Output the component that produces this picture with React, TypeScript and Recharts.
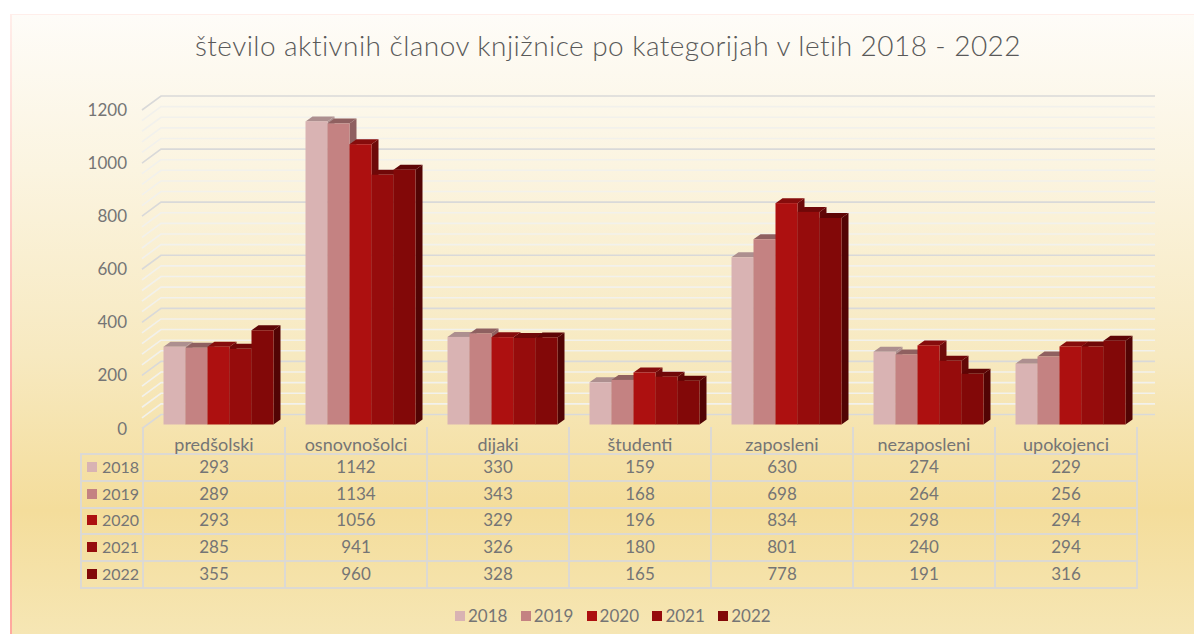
import { BarChart, Bar, XAxis, YAxis, CartesianGrid, Legend } from 'recharts'

const categories = ['predšolski', 'osnovnošolci', 'dijaki', 'študenti', 'zaposleni', 'nezaposleni', 'upokojenci']
const years = ['2018', '2019', '2020', '2021', '2022']
const values2018 = [293, 1142, 330, 159, 630, 274, 229]
const values2019 = [289, 1134, 343, 168, 698, 264, 256]
const values2020 = [293, 1056, 329, 196, 834, 298, 294]
const values2021 = [285, 941, 326, 180, 801, 240, 294]
const values2022 = [355, 960, 328, 165, 778, 191, 316]
const yTicks = [0, 200, 400, 600, 800, 1000, 1200]
const Y_MAX = 1200
const gridValues = [
    0, 40, 80, 120, 160, 200, 240, 280, 320, 360, 400, 440, 480, 520, 560, 600,
    640, 680, 720, 760, 800, 840, 880, 920, 960, 1000, 1040, 1080, 1120, 1160, 1200,
]

const seriesValues = [values2018, values2019, values2020, values2021, values2022]
const FRONT_COLORS = ['#d9b3b3', '#c48282', '#ad1010', '#960c0c', '#820808']
const TOP_COLORS = ['#ad8f8f', '#8f6060', '#860c0c', '#700808', '#5e0505']
const SIDE_COLORS = ['#ad8f8f', '#8f6060', '#6e0a0a', '#620707', '#520404']

const FONT = 'Lato, sans-serif'
const TEXT_COLOR = '#757575'
const LINE_COLOR = '#dcd9d3'

const chartData = categories.map((name, i) => {
    const row: Record<string, string | number> = { name }
    years.forEach((year, s) => {
        row[year] = seriesValues[s][i]
    })
    return row
})

// fake 3D block: front face plus top and right faces
function Block(props: any) {
    const { x, y, width, height, fill, top, side } = props
    const dx = 7
    const dy = 5
    const left = x + 5.5
    const right = left + width
    const bottom = y + height
    return (
        <g>
            <polygon points={`${right},${y} ${right + dx},${y - dy} ${right + dx},${bottom - dy} ${right},${bottom}`} fill={side} />
            <polygon points={`${left},${y} ${left + dx},${y - dy} ${right + dx},${y - dy} ${right},${y}`} fill={top} />
            <rect x={left} y={y} width={width} height={height} fill={fill} />
        </g>
    )
}

// back wall line with the short slanted piece on the left side wall
function GridLine(props: any) {
    const { x1, x2, y1, index } = props
    const major = index % 5 === 0
    const stroke = major ? '#d9d9d9' : '#f2f1ec'
    return (
        <polyline
            points={`${x1},${y1 + 4} ${x1 + 19},${y1 - 10} ${x2 + 19},${y1 - 10}`}
            fill="none"
            stroke={stroke}
            strokeWidth={1.6}
        />
    )
}

function LegendRow(props: any) {
    return (
        <div style={{ display: 'flex', fontFamily: FONT, fontSize: 17, color: TEXT_COLOR, lineHeight: '20px' }}>
            {props.payload.map((item: any) => (
                <div key={item.value} style={{ display: 'flex', alignItems: 'center', width: 65.8 }}>
                    <span style={{ width: 10, height: 10, background: item.color, marginRight: 3 }} />
                    <span>{item.value}</span>
                </div>
            ))}
        </div>
    )
}

const cellStyle: React.CSSProperties = {
    border: `2px solid ${LINE_COLOR}`,
    padding: 0,
    textAlign: 'center',
    fontWeight: 400,
    lineHeight: '20px',
    whiteSpace: 'nowrap',
}

function DataTable() {
    return (
        <table
            style={{
                position: 'absolute',
                left: 80,
                top: 427,
                width: 1056,
                tableLayout: 'fixed',
                borderCollapse: 'collapse',
                fontFamily: FONT,
                fontSize: 17,
                color: TEXT_COLOR,
            }}
        >
            <colgroup>
                <col style={{ width: 62 }} />
                {categories.map((c) => (
                    <col key={c} style={{ width: 142 }} />
                ))}
            </colgroup>
            <thead>
                <tr style={{ height: 27 }}>
                    <th style={{ ...cellStyle, borderTop: 'none', borderLeft: 'none' }} />
                    {categories.map((c) => (
                        <th key={c} style={{ ...cellStyle, borderTop: 'none', verticalAlign: 'bottom', fontSize: 18, lineHeight: '17px' }}>
                            {c}
                        </th>
                    ))}
                </tr>
            </thead>
            <tbody>
                {years.map((year, s) => (
                    <tr key={year} style={{ height: 26.8 }}>
                        <td style={{ ...cellStyle, textAlign: 'left', fontSize: 16, paddingBottom: 1 }}>
                            <div style={{ display: 'flex', alignItems: 'center' }}>
                                <span
                                    style={{
                                        width: 10,
                                        height: 10,
                                        background: FRONT_COLORS[s],
                                        margin: '0 5px 0 5px',
                                        flexShrink: 0,
                                    }}
                                />
                                {year}
                            </div>
                        </td>
                        {seriesValues[s].map((v, i) => (
                            <td key={i} style={{ ...cellStyle, paddingBottom: 1 }}>
                                {v}
                            </td>
                        ))}
                    </tr>
                ))}
            </tbody>
        </table>
    )
}

export default function App() {
    return (
        <div style={{ position: 'absolute', left: 0, top: 0, width: 1194, height: 634, background: '#ffffff', overflow: 'hidden' }}>
            <div
                style={{
                    position: 'absolute',
                    left: 10,
                    top: 14,
                    width: 1184,
                    height: 620,
                    boxSizing: 'border-box',
                    background: 'linear-gradient(180deg, #fefcf8 0%, #fbf4e0 25%, #f7e9c0 55%, #f4dd9b 80%, #f6e6b4 100%)',
                    borderTop: '1px solid #ffeeea',
                }}
            />
            <div
                style={{
                    position: 'absolute',
                    left: 10,
                    top: 14,
                    width: 2,
                    height: 620,
                    background: 'linear-gradient(180deg, #ffeeea 0%, #ffc4be 40%, #ff9a90 80%, #ffaaa0 100%)',
                }}
            />
            <div
                style={{
                    position: 'absolute',
                    left: 0,
                    top: 27,
                    width: 1216,
                    textAlign: 'center',
                    fontFamily: FONT,
                    fontSize: 28,
                    fontWeight: 300,
                    letterSpacing: 0.45,
                    color: '#595959',
                    lineHeight: '36px',
                }}
            >
                število aktivnih članov knjižnice po kategorijah v letih 2018 - 2022
            </div>
            <div style={{ position: 'absolute', left: 0, top: 0 }}>
                <BarChart
                    width={1194}
                    height={634}
                    data={chartData}
                    margin={{ top: 106, right: 58, bottom: 189.5, left: 82 }}
                    barCategoryGap={32}
                    barGap={0}
                    barSize={22}
                >
                    <CartesianGrid
                        vertical={false}
                        horizontal={(p: any) => <GridLine key={p.index} {...p} />}
                        horizontalCoordinatesGenerator={({ offset }: any) =>
                            gridValues.map((v) => offset.top + offset.height * (1 - v / Y_MAX))
                        }
                    />
                    <XAxis dataKey="name" hide />
                    <YAxis
                        width={60}
                        domain={[0, Y_MAX]}
                        ticks={yTicks}
                        axisLine={false}
                        tickLine={false}
                        tickMargin={9}
                        tick={{ fontFamily: FONT, fontSize: 17, fill: TEXT_COLOR, dy: 4 }}
                    />
                    {years.map((year, s) => (
                        <Bar
                            key={year}
                            dataKey={year}
                            fill={FRONT_COLORS[s]}
                            isAnimationActive={false}
                            shape={(p: any) => <Block {...p} top={TOP_COLORS[s]} side={SIDE_COLORS[s]} />}
                        />
                    ))}
                    <Legend content={<LegendRow />} wrapperStyle={{ left: 455, top: 606, width: 340 }} />
                </BarChart>
            </div>
            <DataTable />
        </div>
    )
}
